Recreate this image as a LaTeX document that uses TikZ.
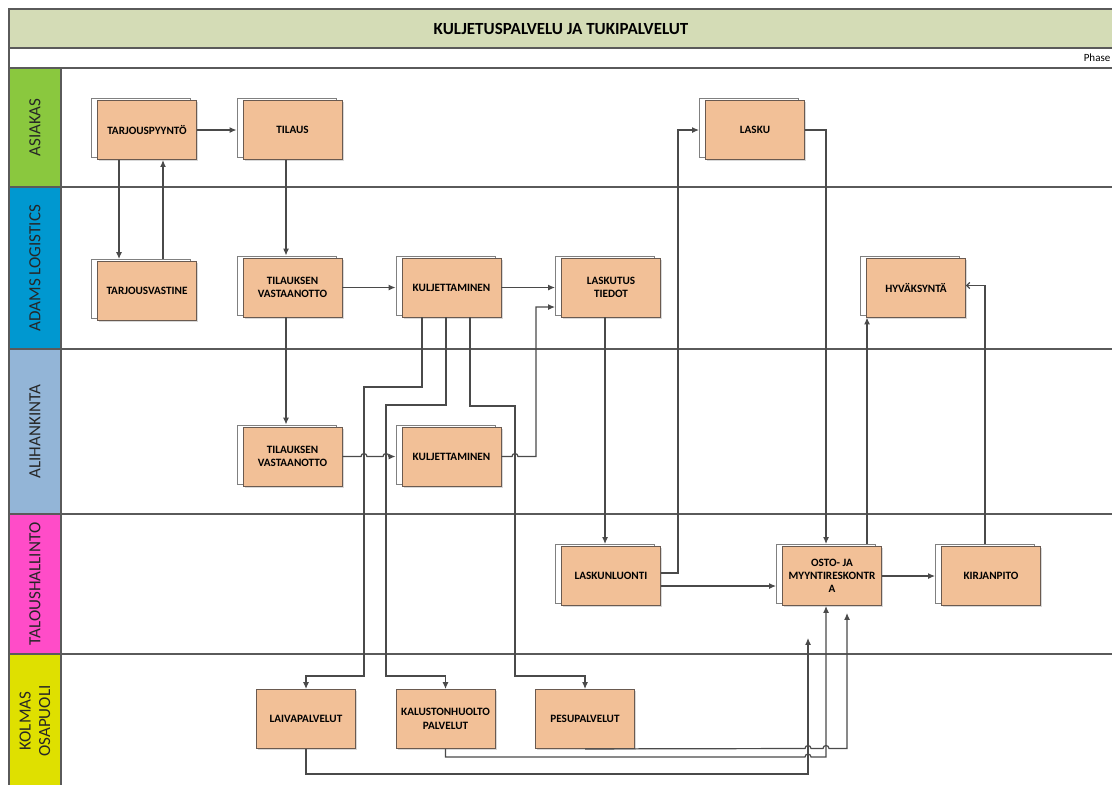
\documentclass[tikz,border=0pt]{standalone}
\usepackage{fontspec}
\setmainfont{Carlito}
\usepackage{tikz}
\usetikzlibrary{calc}
\usetikzlibrary{shadows}
\usetikzlibrary{arrows.meta}
\tikzset{>={Latex[length=7pt,width=6pt]}}

\definecolor{titleband}{HTML}{D4DCB6}
\definecolor{taskfill}{HTML}{F2C097}
\definecolor{taskline}{HTML}{6A5A50}
\definecolor{flowgray}{HTML}{4A4A4A}
\definecolor{rulegray}{HTML}{5A5A5A}
\definecolor{asiakas}{HTML}{8AC83E}
\definecolor{adams}{HTML}{0098D0}
\definecolor{alihankinta}{HTML}{93B5D7}
\definecolor{talous}{HTML}{FF4CC8}
\definecolor{kolmas}{HTML}{DFE000}

\tikzset{
    task/.style={draw=taskline, fill=taskfill, line width=0.9pt,
        minimum width=99pt, minimum height=59pt, inner sep=2pt, align=center,
        font=\fontsize{11.2}{13.3}\selectfont\bfseries,
        drop shadow={shadow xshift=1.5pt, shadow yshift=-1.5pt, opacity=0.3}},
    taskdoc/.style={task,
        copy shadow={shadow xshift=-6pt, shadow yshift=2pt, fill=white, draw=gray, line width=0.7pt}},
    flow/.style={draw=flowgray, line width=1.2pt},
    lanerule/.style={draw=rulegray, line width=1.3pt},
    lanelabel/.style={rotate=90, align=center, text=black!85,
        font=\fontsize{17}{19.5}\selectfont},
}

\begin{document}
\begin{tikzpicture}[x=1pt, y=-1pt]
    \clip (0,0) rectangle (1112,785);
    \fill[white] (0,0) rectangle (1112,785);

    % otsikko ja kaistat
    \draw[lanerule, fill=titleband] (9,9) rectangle (1125,48);
    \draw[lanerule] (9,48) rectangle (1125,68);
    \node[font=\fontsize{17}{20}\selectfont\bfseries] (title) at (561,28.5) {KULJETUSPALVELU JA TUKIPALVELUT};
    \node[anchor=east, inner sep=1pt, font=\fontsize{11}{13}\selectfont] (phase) at (1111.5,58) {Phase};

    \draw[lanerule] (61,68) rectangle (1125,187);
    \draw[lanerule] (61,187) rectangle (1125,349);
    \draw[lanerule] (61,349) rectangle (1125,514);
    \draw[lanerule] (61,514) rectangle (1125,654);
    \draw[lanerule] (61,654) rectangle (1125,800);
    \draw[lanerule, fill=asiakas] (9,68) rectangle (61,187);
    \draw[lanerule, fill=adams] (9,187) rectangle (61,349);
    \draw[lanerule, fill=alihankinta] (9,349) rectangle (61,514);
    \draw[lanerule, fill=talous] (9,514) rectangle (61,654);
    \draw[lanerule, fill=kolmas] (9,654) rectangle (61,800);

    \node[lanelabel] (l-asiakas) at (35,127.5) {ASIAKAS};
    \node[lanelabel] (l-adams) at (35,268) {ADAMS LOGISTICS};
    \node[lanelabel] (l-alihankinta) at (35,431.5) {ALIHANKINTA};
    \node[lanelabel] (l-talous) at (35,584) {TALOUSHALLINTO};
    \node[lanelabel] (l-kolmas) at (35,721) {KOLMAS\\OSAPUOLI};

    % tehtavat
    \node[taskdoc] (tarjous) at (147,130) {TARJOUSPYYNTÖ};
    \node[taskdoc] (tilaus) at (292.5,130) {TILAUS};
    \node[taskdoc] (lasku) at (755,130) {LASKU};
    \node[taskdoc] (tvastine) at (147,291) {TARJOUSVASTINE};
    \node[taskdoc] (tvast1) at (292.5,287.5) {TILAUKSEN\\VASTAANOTTO};
    \node[taskdoc] (kulj1) at (451.5,287.5) {KULJETTAMINEN};
    \node[taskdoc] (laskutus) at (611,287.5) {LASKUTUS\\TIEDOT};
    \node[taskdoc] (hyvak) at (916,287.5) {HYVÄKSYNTÄ};
    \node[taskdoc] (tvast2) at (292.5,456.5) {TILAUKSEN\\VASTAANOTTO};
    \node[taskdoc] (kulj2) at (451.5,456.5) {KULJETTAMINEN};
    \node[taskdoc] (laskunl) at (611,576) {LASKUNLUONTI};
    \node[taskdoc] (osto) at (832,576) {OSTO- JA\\MYYNTIRESKONTR\\A};
    \node[taskdoc] (kirjan) at (991,576) {KIRJANPITO};
    \node[task] (laiva) at (306,719) {LAIVAPALVELUT};
    \node[task] (kalusto) at (445.5,719) {KALUSTONHUOLTO\\PALVELUT};
    \node[task] (pesu) at (585,719) {PESUPALVELUT};

    \coordinate (laiva-end) at ([xshift=-24pt,yshift=-32pt]osto.south);
    \coordinate (pesu-end) at ([xshift=15pt,yshift=-7pt]osto.south);

    % yhteydet
    \draw[flow,->] (tarjous.east) -- ([xshift=-6pt]tilaus.west);
    \draw[flow,->] ([xshift=-28pt]tarjous.south) -- ([xshift=-28pt,yshift=2pt]tvastine.north);
    \draw[flow,->] ([xshift=16pt,yshift=2pt]tvastine.north) -- ([xshift=16pt]tarjous.south);
    \draw[flow,->] ([xshift=-6.5pt]tilaus.south) -- ([xshift=-6.5pt,yshift=2pt]tvast1.north);
    \draw[flow,->] (tvast1.east) -- ([xshift=-6pt]kulj1.west);
    \draw[flow,->] (kulj1.east) -- ([xshift=-6pt]laskutus.west);
    \draw[flow,->] ([xshift=-6.5pt]tvast1.south) -- ([xshift=-6.5pt,yshift=2pt]tvast2.north);
    \draw[flow,->] (tvast2.east) -- (361,456.5) arc[start angle=180, end angle=0, radius=3pt]
        -- (383,456.5) arc[start angle=180, end angle=0, radius=3pt] -- ([xshift=-6pt]kulj2.west);
    \draw[flow,->] ([xshift=-29.5pt]kulj1.south) |- (364,387) -- (364,676) -| (laiva.north);
    \draw[flow,->] ([xshift=-5.5pt]kulj1.south) |- (386,405) -- (386,676) -| (kalusto.north);
    \draw[flow,->] ([xshift=18.5pt]kulj1.south) |- (515,406) -- (515,676) -| (pesu.north);
    \draw[flow,->] (kulj2.east) -- (512,456.5) arc[start angle=180, end angle=0, radius=3pt]
        -- (536,456.5) |- ([xshift=-6pt,yshift=-19.5pt]laskutus.west);
    \draw[flow,->] ([xshift=-6pt]laskutus.south) -- ([xshift=-6pt,yshift=2pt]laskunl.north);
    \draw[flow,->] ([yshift=3pt]laskunl.east) -- (678,573) |- ([xshift=-6pt]lasku.west);
    \draw[flow,->] ([yshift=-10pt]laskunl.east) -- ([xshift=-6pt,yshift=-10pt]osto.west);
    \draw[flow,->] (lasku.east) -| ([xshift=-6pt,yshift=2pt]osto.north);
    \draw[flow,->] ([xshift=35pt,yshift=2pt]osto.north) -- ([xshift=-49pt]hyvak.south);
    \draw[flow,->] (osto.east) -- ([xshift=-6pt]kirjan.west);
    \draw[flow,-{Straight Barb[length=3pt,width=6pt]}] ([xshift=-6pt,yshift=2pt]kirjan.north) |- ([yshift=2pt]hyvak.east);
    \draw[flow,->] (laiva.south) -- ++(0,25) -| (laiva-end);
    \draw[flow,->] (kalusto.south) -- ++(0,8) -- (805,757) arc[start angle=180, end angle=0, radius=3pt]
        -| ([xshift=-6pt]osto.south);
    \draw[flow,->] (pesu.south) -- (805,748.5) arc[start angle=180, end angle=0, radius=3pt]
        -- (823,748.5) arc[start angle=180, end angle=0, radius=3pt] -| (pesu-end);
\end{tikzpicture}
\end{document}
